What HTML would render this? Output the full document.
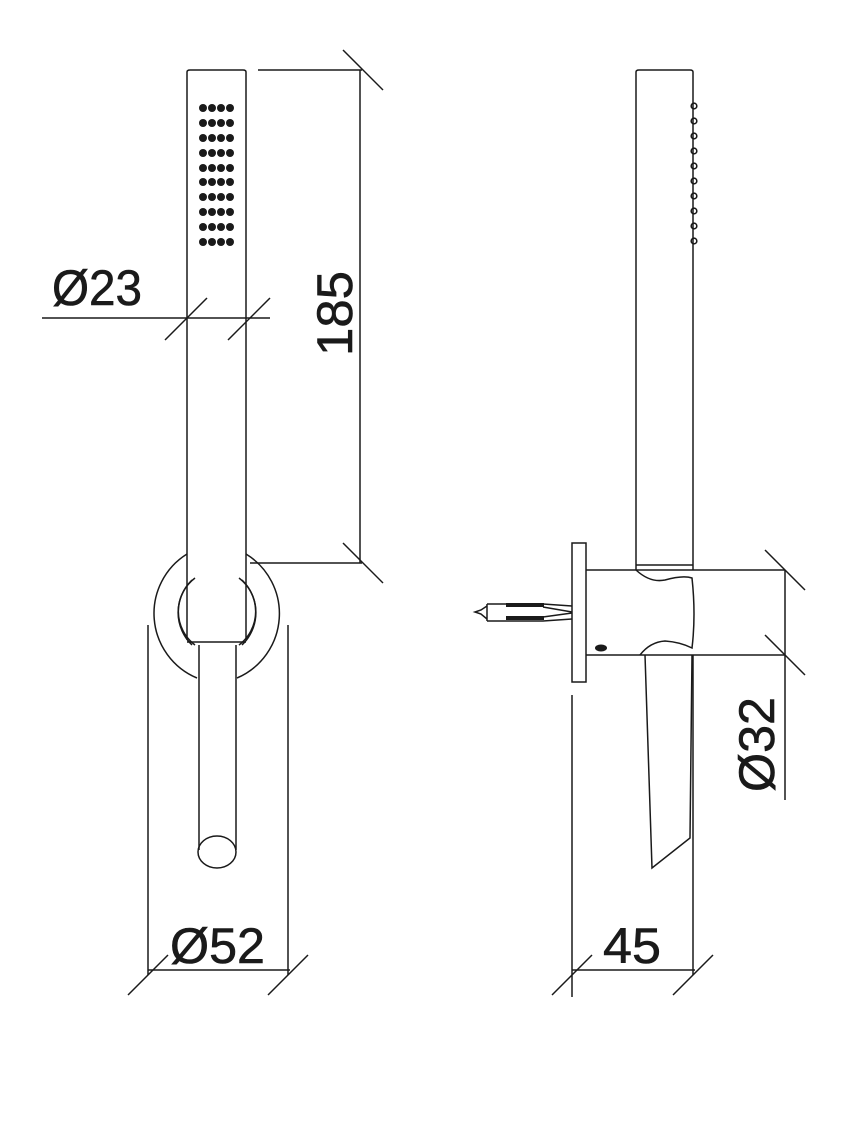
<!DOCTYPE html>
<html><head><meta charset="utf-8"><style>html,body{margin:0;padding:0;background:#fff}svg{display:block}</style></head>
<body>
<svg width="860" height="1123" viewBox="0 0 860 1123" xmlns="http://www.w3.org/2000/svg">
<g fill="none" stroke="#1a1a1a" stroke-width="1.5">
<!-- LEFT -->
<path d="M187,640 V72 Q187,70 190,70 H243 Q246,70 246,72 V640"/>
<line x1="187" y1="642" x2="246" y2="642"/>
<path d="M187,554 A70,70 0 0 0 197,678"/>
<path d="M246,554 A70,70 0 0 1 237,678"/>
<path d="M192,580 A45,45 0 0 0 192,645"/>
<path d="M242,580 A45,45 0 0 1 242,645"/>
<path d="M195,578 A42,42 0 0 0 195,645"/>
<path d="M239,578 A42,42 0 0 1 239,645"/>
<line x1="148" y1="625" x2="148" y2="975"/>
<line x1="288" y1="625" x2="288" y2="975"/>
<path d="M199,645 V850 M236,645 V850"/>
<ellipse cx="217" cy="852" rx="19" ry="16"/>
<!-- dims left -->
<line x1="258" y1="70" x2="362" y2="70"/>
<line x1="250" y1="563" x2="362" y2="563"/>
<line x1="360" y1="70" x2="360" y2="563"/>
<line x1="343" y1="50" x2="383" y2="90"/>
<line x1="343" y1="543" x2="383" y2="583"/>
<line x1="42" y1="318" x2="270" y2="318"/>
<line x1="165" y1="340" x2="207" y2="298"/>
<line x1="228" y1="340" x2="270" y2="298"/>
<line x1="148" y1="970" x2="290" y2="970"/>
<line x1="128" y1="995" x2="168" y2="955"/>
<line x1="268" y1="995" x2="308" y2="955"/>
<!-- RIGHT -->
<path d="M636,570 V72 Q636,70 639,70 H690 Q693,70 693,72 V570"/>
<line x1="636" y1="565" x2="693" y2="565"/>
<rect x="572" y="543" width="14" height="139"/>
<line x1="586" y1="570" x2="785" y2="570"/>
<line x1="586" y1="655" x2="785" y2="655"/>
<path d="M636,570 Q650,583 665,580 Q683,575 692,578 Q696,615 692,648 Q680,642 665,641 Q650,642 640,655"/>
<path d="M645,655 L652,868 L690,838 L692,655"/>
<!-- pin -->
<path d="M487,604 H543 L572,606 M487,621 H543 L572,619 M487,604 V621 M543,607 L572,612 M543,617 L572,613"/>
<path d="M487,606 L481,610 L475,612 L481,614 L487,619"/>
<line x1="785" y1="570" x2="785" y2="800"/>
<line x1="765" y1="550" x2="805" y2="590"/>
<line x1="765" y1="635" x2="805" y2="675"/>
<line x1="572" y1="695" x2="572" y2="997"/>
<line x1="693" y1="655" x2="693" y2="975"/>
<line x1="572" y1="970" x2="695" y2="970"/>
<line x1="552" y1="995" x2="592" y2="955"/>
<line x1="673" y1="995" x2="713" y2="955"/>
</g>
<g fill="#1a1a1a">
<rect x="506" y="603" width="38" height="4"/>
<rect x="506" y="616" width="38" height="4"/>
<ellipse cx="601" cy="648" rx="6" ry="3.5"/>
</g>
<g fill="#1a1a1a">
<circle cx="203" cy="108" r="4"/><circle cx="212" cy="108" r="4"/><circle cx="221" cy="108" r="4"/><circle cx="230" cy="108" r="4"/>
<circle cx="203" cy="123" r="4"/><circle cx="212" cy="123" r="4"/><circle cx="221" cy="123" r="4"/><circle cx="230" cy="123" r="4"/>
<circle cx="203" cy="138" r="4"/><circle cx="212" cy="138" r="4"/><circle cx="221" cy="138" r="4"/><circle cx="230" cy="138" r="4"/>
<circle cx="203" cy="153" r="4"/><circle cx="212" cy="153" r="4"/><circle cx="221" cy="153" r="4"/><circle cx="230" cy="153" r="4"/>
<circle cx="203" cy="168" r="4"/><circle cx="212" cy="168" r="4"/><circle cx="221" cy="168" r="4"/><circle cx="230" cy="168" r="4"/>
<circle cx="203" cy="182" r="4"/><circle cx="212" cy="182" r="4"/><circle cx="221" cy="182" r="4"/><circle cx="230" cy="182" r="4"/>
<circle cx="203" cy="197" r="4"/><circle cx="212" cy="197" r="4"/><circle cx="221" cy="197" r="4"/><circle cx="230" cy="197" r="4"/>
<circle cx="203" cy="212" r="4"/><circle cx="212" cy="212" r="4"/><circle cx="221" cy="212" r="4"/><circle cx="230" cy="212" r="4"/>
<circle cx="203" cy="227" r="4"/><circle cx="212" cy="227" r="4"/><circle cx="221" cy="227" r="4"/><circle cx="230" cy="227" r="4"/>
<circle cx="203" cy="242" r="4"/><circle cx="212" cy="242" r="4"/><circle cx="221" cy="242" r="4"/><circle cx="230" cy="242" r="4"/>
</g>
<g fill="none" stroke="#1a1a1a" stroke-width="1.6">
<circle cx="694" cy="106" r="2.8"/><circle cx="694" cy="121" r="2.8"/><circle cx="694" cy="136" r="2.8"/><circle cx="694" cy="151" r="2.8"/><circle cx="694" cy="166" r="2.8"/>
<circle cx="694" cy="181" r="2.8"/><circle cx="694" cy="196" r="2.8"/><circle cx="694" cy="211" r="2.8"/><circle cx="694" cy="226" r="2.8"/><circle cx="694" cy="241" r="2.8"/>
</g>
<g font-family="Liberation Sans, sans-serif" font-size="50" fill="#1a1a1a" stroke="#1a1a1a" stroke-width="0.6">
<text x="52" y="305" textLength="90" lengthAdjust="spacingAndGlyphs">Ø23</text>
<text x="170" y="963" textLength="95" lengthAdjust="spacingAndGlyphs">Ø52</text>
<text x="603" y="963" textLength="58" lengthAdjust="spacingAndGlyphs">45</text>
<text transform="translate(352,356) rotate(-90)" textLength="85" lengthAdjust="spacingAndGlyphs">185</text>
<text transform="translate(774,792) rotate(-90)" textLength="95" lengthAdjust="spacingAndGlyphs">Ø32</text>
</g>
</svg>
</body></html>
